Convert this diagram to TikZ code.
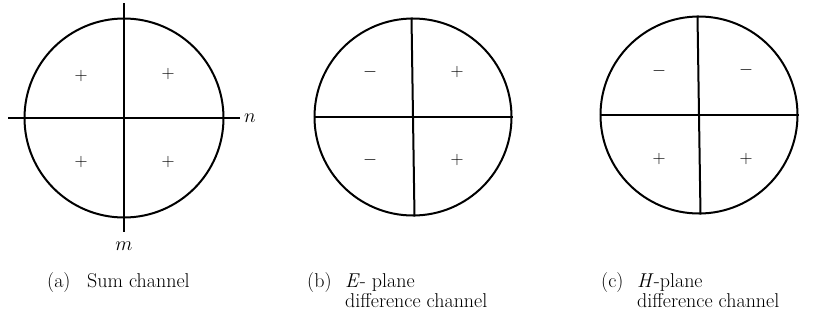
\RequirePackage{fix-cm}
\documentclass[tikz,border=0pt]{standalone}
\usepackage{amsmath,amssymb}
\usepackage{fontspec}
\usetikzlibrary{positioning,calc}

\begin{document}
\begin{tikzpicture}[x=1pt,y=-1pt,
		disk/.style={circle,draw,line width=2pt,minimum size=#1,inner sep=0pt},
		axis/.style={line width=2pt},
		sign/.style={inner sep=0pt,font=\fontsize{18}{18}\selectfont},
		lab/.style={inner sep=0pt,font=\fontsize{20}{22}\selectfont},
		captext/.style={anchor=base west,inner sep=0pt,font=\fontsize{20}{22}\selectfont}]
		\useasboundingbox (0,0) rectangle (815,325);
		% (a) sum channel
		\node[disk=199pt] (A) at (124,118) {};
		\coordinate (Atop) at (124,3);
		\coordinate (Abot) at (124,232);
		\coordinate (Aleft) at (8,118);
		\coordinate (Aright) at (240,118);
		\draw[axis] (Atop) -- (Abot);
		\draw[axis] (Aleft) -- (Aright);
		\node[lab,right=4pt of Aright] (n) {$n$};
		\node[lab,below=10pt of Abot] (m) {$m$};
		\node[sign] (a1) at (81,76) {$+$};
		\node[sign] (a2) at (168,74) {$+$};
		\node[sign] (a3) at (81,162) {$+$};
		\node[sign] (a4) at (168,162) {$+$};
		% (b) E-plane
		\node[disk=197pt] (B) at (413,117) {};
		\draw[axis] ($(B.north)+(-1.5,0)$) -- ($(B.south)+(1.5,0)$);
		\draw[axis] (B.west) -- (B.east);
		\node[sign] (b1) at (370,72) {$-$};
		\node[sign] (b2) at (457,72) {$+$};
		\node[sign] (b3) at (370,160) {$-$};
		\node[sign] (b4) at (457,160) {$+$};
		% (c) H-plane
		\node[disk=197pt] (C) at (699,115) {};
		\draw[axis] ($(C.north)+(-1.5,0)$) -- ($(C.south)+(1.5,0)$);
		\draw[axis] (C.west) -- (C.east);
		\node[sign] (c1) at (659,71) {$-$};
		\node[sign] (c2) at (746,70) {$-$};
		\node[sign] (c3) at (659,159) {$+$};
		\node[sign] (c4) at (746,159) {$+$};
		% captions
		\node[captext] (capa) at (47,287) {(a)};
		\node[captext] (capatxt) at (87,287) {Sum channel};
		\node[captext] (capb) at (307,287) {(b)};
		\node[captext] (capbtxt) at (345,287) {\textit{E}- plane};
		\node[captext] (capbtwo) at ($(capbtxt.base west)+(0,20)$) {difference channel};
		\node[captext] (capc) at (601,287) {(c)};
		\node[captext] (capctxt) at (637,287) {\textit{H}-plane};
		\node[captext] (capctwo) at ($(capctxt.base west)+(0,20)$) {difference channel};
	\end{tikzpicture}
\end{document}
